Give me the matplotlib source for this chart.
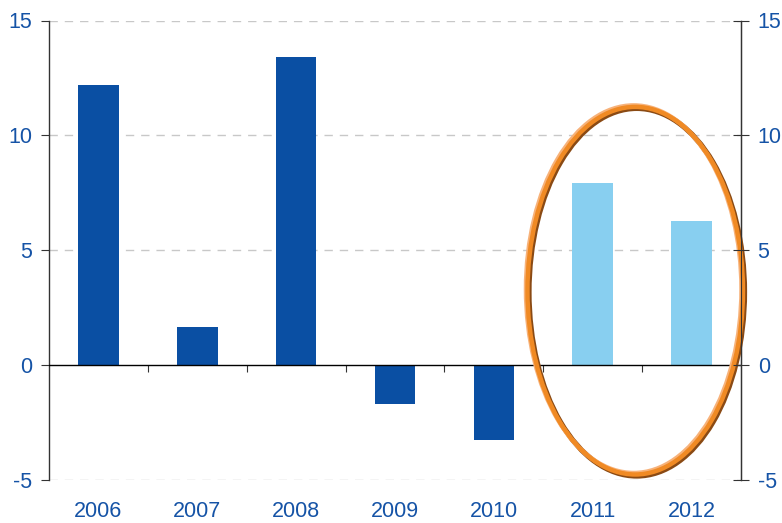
import matplotlib
matplotlib.use("Agg")
import matplotlib.pyplot as plt
import matplotlib.transforms as mtransforms
from matplotlib.patches import Ellipse
import numpy as np

years = ["2006", "2007", "2008", "2009", "2010", "2011", "2012"]
values = [12.2, 1.65, 13.4, -1.7, -3.27, 7.92, 6.27]
forecast = [False, False, False, False, False, True, True]
yticks = [-5, 0, 5, 10, 15]

dark_blue = "#0A4FA3"
light_blue = "#88CFF0"
text_blue = "#1553A6"

plt.rcParams['font.family'] = ['Liberation Sans', 'DejaVu Sans']

fig = plt.figure(figsize=(7.82, 5.23), dpi=100)
ax = fig.add_axes([49/782, 1-480/523, (741-49)/782, (480-20.5)/523])

x = np.arange(len(years))
colors = [light_blue if f else dark_blue for f in forecast]
ax.bar(x, values, width=0.41, color=colors, zorder=3)

ax.set_xlim(-0.5, len(years) - 0.5)
ax.set_ylim(-5, 15)
ax.set_yticks(yticks)
ax.set_yticklabels([str(v) for v in yticks])

for v in yticks:
    if v != 0:
        ax.axhline(v, color="#C8C8C8", lw=1, ls=(0, (6, 5)), zorder=1)
ax.axhline(0, color="black", lw=1, zorder=4)

for s in ["top", "bottom"]:
    ax.spines[s].set_visible(False)
for s in ["left", "right"]:
    ax.spines[s].set_color("#333333")
    ax.spines[s].set_linewidth(1)

ax.set_xticks(x)
ax.set_xticklabels(years)
ax.tick_params(axis="x", length=0, pad=15, labelsize=15.5, labelcolor=text_blue)
ax.tick_params(axis="y", which="both", labelsize=15.5, labelcolor=text_blue,
               left=True, right=False, direction="out", length=6, color="#333333", pad=6)

axr = ax.twinx()
axr.set_ylim(ax.get_ylim())
axr.set_yticks(yticks)
axr.set_yticklabels([str(v) for v in yticks])
axr.tick_params(axis="y", direction="inout", length=12, labelsize=15.5,
                labelcolor=text_blue, color="#333333", pad=6)
for s in ["top", "bottom", "left"]:
    axr.spines[s].set_visible(False)
axr.spines["right"].set_color("#333333")

# boundary ticks on zero line
sec = ax.secondary_xaxis(0, transform=ax.transData)
sec.set_xticks(np.arange(len(years) - 1) + 0.5)
sec.tick_params(length=5, labelbottom=False, color="#333333")
sec.spines["bottom"].set_visible(False)

# highlight ellipse
cx, cy, w, h = 5.43, 3.24, 2.18, 16.0
shadow_tr = mtransforms.offset_copy(ax.transData, fig=fig, x=1.5, y=-1.5, units="dots")
hl_tr = mtransforms.offset_copy(ax.transData, fig=fig, x=-1.5, y=1.5, units="dots")
ax.add_patch(Ellipse((cx, cy), w, h, fill=False, ec="#8A4A14", lw=3.8,
                     transform=shadow_tr, zorder=5, clip_on=False))
ax.add_patch(Ellipse((cx, cy), w, h, fill=False, ec="#F7B27A", lw=3.2,
                     transform=hl_tr, zorder=6, clip_on=False))
ax.add_patch(Ellipse((cx, cy), w, h, fill=False, ec="#F08A24", lw=3.2,
                     zorder=7, clip_on=False))

fig.savefig("out.png", dpi=100)
